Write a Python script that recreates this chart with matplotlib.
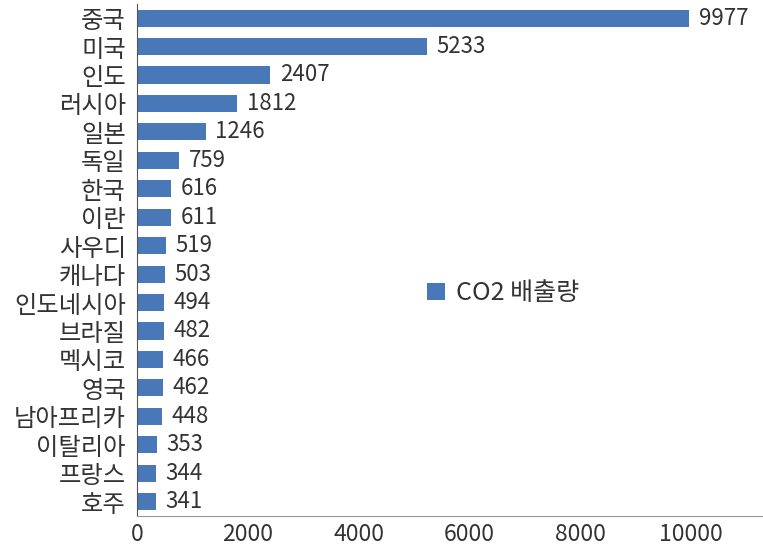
import matplotlib
matplotlib.use("Agg")
import matplotlib.pyplot as plt

plt.rcParams["font.family"] = ["Noto Sans CJK KR", "DejaVu Sans"]

# ── Data: CO2 emissions by country ───────────────────────────────
countries = ["중국", "미국", "인도", "러시아", "일본", "독일", "한국", "이란", "사우디",
             "캐나다", "인도네시아", "브라질", "멕시코", "영국", "남아프리카", "이탈리아",
             "프랑스", "호주"]
emissions = [9977, 5233, 2407, 1812, 1246, 759, 616, 611, 519,
             503, 494, 482, 466, 462, 448, 353, 344, 341]
xticks = [0, 2000, 4000, 6000, 8000, 10000]

bar_color = "#4878b8"
text_color = "#333333"

fig = plt.figure(figsize=(7.63, 5.5), dpi=100)
ax = fig.add_axes([0.1796, 0.062, 0.82, 0.931])

ypos = list(range(len(countries)))
bars = ax.barh(ypos, emissions, height=0.6, color=bar_color, label="CO2 배출량")
ax.set_ylim(len(countries) - 0.5, -0.5)
ax.set_xlim(0, 11300)

for y, v in zip(ypos, emissions):
    ax.text(v + 170, y, str(v), va="center", ha="left", fontsize=16, color=text_color)

ax.set_yticks(ypos)
ax.set_yticklabels(countries, fontsize=17.5, color=text_color)
ax.set_xticks(xticks)
ax.set_xticklabels([str(t) for t in xticks], fontsize=16.5, color=text_color)
ax.tick_params(axis="y", length=0, pad=8)
ax.tick_params(axis="x", length=0, pad=5)

ax.spines[["top", "right"]].set_visible(False)
ax.spines["left"].set_color("#555555")
ax.spines["bottom"].set_color("#999999")

ax.legend(loc="center", bbox_to_anchor=(0.585, 0.435), frameon=False, fontsize=18,
          handlelength=0.7, handleheight=0.7, handletextpad=0.45,
          labelcolor=text_color)

fig.savefig("out.png", dpi=100)
